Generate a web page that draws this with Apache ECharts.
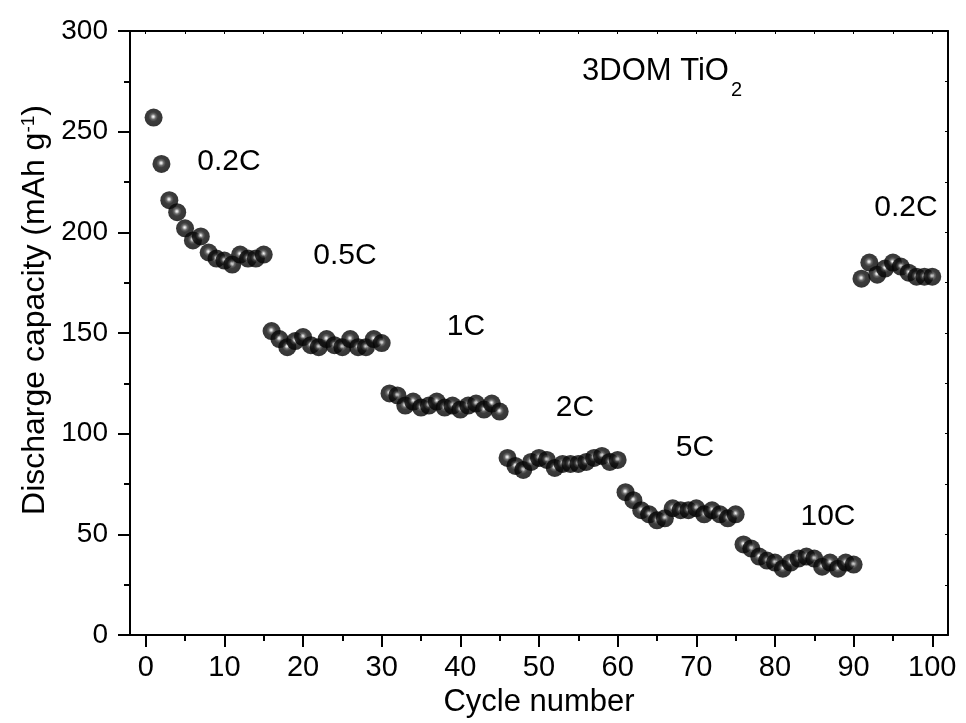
<!DOCTYPE html>
<html>
<head>
<meta charset="utf-8">
<script src="https://cdn.jsdelivr.net/npm/echarts@6/dist/echarts.min.js"></script>
<style>
  html, body { margin: 0; padding: 0; background: #fff; }
  #main { width: 966px; height: 723px; }
</style>
</head>
<body>
<div id="main"></div>
<script>
var chartDom = document.getElementById('main');
var myChart = echarts.init(chartDom);
var option;

// discharge capacity per rate step, 15 cycles each (last step 10 cycles)
const rate02a = [257, 234, 216, 210, 202, 196, 198, 190, 187, 186, 184, 189, 187, 187, 189];
const rate05 = [151, 147, 143, 146, 148, 144, 143, 147, 144, 143, 147, 143, 143, 147, 145];
const rate1 = [120, 119, 114, 116, 113, 114, 116, 113, 114, 112, 114, 115, 112, 115, 111];
const rate2 = [88, 84, 82, 86, 88, 87, 83, 85, 85, 85, 86, 88, 89, 86, 87];
const rate5 = [71, 67, 62, 60, 57, 58, 63, 62, 62, 63, 60, 62, 60, 58, 60];
const rate10 = [45, 43, 39, 37, 36, 33, 36, 38, 39, 38, 34, 36, 33, 36, 35];
const rate02b = [177, 185, 179, 182, 185, 183, 180, 178, 178, 178];

const segments = [rate02a, rate05, rate1, rate2, rate5, rate10, rate02b];
const segmentStart = [1, 16, 31, 46, 61, 76, 91];

const xTicks = [0, 10, 20, 30, 40, 50, 60, 70, 80, 90, 100];
const xMinorTicks = [5, 15, 25, 35, 45, 55, 65, 75, 85, 95];

// build [cycle, capacity] pairs
const points = [];
segments.forEach(function (seg, i) {
    seg.forEach(function (v, j) {
        points.push([segmentStart[i] + j, v]);
    });
});

const FONT = '"Liberation Sans", Arial, sans-serif';

// shaded ball marker: small bright spot, mostly black
const ball = {
    type: 'radial',
    x: 0.48,
    y: 0.45,
    r: 0.58,
    colorStops: [
        { offset: 0, color: '#ffffff' },
        { offset: 0.1, color: '#c8c8c8' },
        { offset: 0.26, color: '#444' },
        { offset: 0.45, color: '#0c0c0c' },
        { offset: 1, color: '#000' }
    ]
};

function note(text, x, y, size, align) {
    return {
        type: 'text',
        x: x,
        y: y,
        style: {
            text: text,
            font: size + 'px ' + FONT,
            fill: '#000',
            align: align || 'center',
            verticalAlign: 'middle'
        },
        z: 100
    };
}

option = {
    backgroundColor: '#fff',
    animation: false,
    grid: {
        left: 130,
        right: 18,
        top: 31,
        bottom: 87
    },
    xAxis: [
        {
            type: 'value',
            min: -2,
            max: 102,
            name: 'Cycle number',
            nameLocation: 'middle',
            nameGap: 50,
            nameTextStyle: { fontFamily: FONT, fontSize: 31, color: '#000' },
            splitLine: { show: false },
            axisLine: { onZero: false, lineStyle: { color: '#000', width: 2 } },
            axisTick: { inside: false, length: 12, customValues: xTicks, lineStyle: { color: '#000', width: 2 } },
            axisLabel: { customValues: xTicks, margin: 18, fontFamily: FONT, fontSize: 29, color: '#000' }
        },
        {
            // minor ticks on the bottom axis
            type: 'value',
            position: 'bottom',
            min: -2,
            max: 102,
            splitLine: { show: false },
            axisLine: { show: false, onZero: false },
            axisTick: { inside: false, length: 6, customValues: xMinorTicks, lineStyle: { color: '#000', width: 2 } },
            axisLabel: { show: false }
        },
        {
            type: 'value',
            position: 'top',
            min: -2,
            max: 102,
            splitLine: { show: false },
            axisLine: { onZero: false, lineStyle: { color: '#000', width: 2 } },
            axisTick: { inside: true, length: 3, customValues: xTicks.concat(xMinorTicks), lineStyle: { color: '#000', width: 1 } },
            axisLabel: { show: false }
        }
    ],
    yAxis: [
        {
            type: 'value',
            min: 0,
            max: 300,
            interval: 50,
            splitLine: { show: false },
            axisLine: { show: true, onZero: false, lineStyle: { color: '#000', width: 2 } },
            axisTick: { show: true, inside: false, length: 12, lineStyle: { color: '#000', width: 2 } },
            minorTick: { show: true, splitNumber: 2, length: 6, lineStyle: { color: '#000', width: 2 } },
            axisLabel: { margin: 22, fontFamily: FONT, fontSize: 28, color: '#000' }
        },
        {
            type: 'value',
            position: 'right',
            min: 0,
            max: 300,
            interval: 50,
            splitLine: { show: false },
            axisLine: { show: true, onZero: false, lineStyle: { color: '#000', width: 2 } },
            axisTick: { show: true, inside: true, length: 3, lineStyle: { color: '#000', width: 1 } },
            minorTick: { show: true, splitNumber: 2, length: 3, lineStyle: { color: '#000', width: 1 } },
            axisLabel: { show: false }
        }
    ],
    series: [
        {
            type: 'scatter',
            xAxisIndex: 0,
            yAxisIndex: 0,
            data: points,
            symbol: 'circle',
            symbolSize: 18,
            itemStyle: { color: ball },
            emphasis: { disabled: true }
        }
    ],
    graphic: {
        elements: [
            {
                type: 'text',
                x: 35,
                y: 310,
                rotation: Math.PI / 2,
                style: {
                    text: 'Discharge capacity (mAh g{sup|-1})',
                    font: '32px ' + FONT,
                    fill: '#000',
                    align: 'center',
                    verticalAlign: 'middle',
                    rich: {
                        sup: { fontSize: 19, fontFamily: FONT, verticalAlign: 'top', lineHeight: 19 }
                    }
                },
                z: 100
            },
            note('0.2C', 229, 162, 30),
            note('0.5C', 345, 256, 30),
            note('1C', 466, 327, 30),
            note('2C', 575, 408, 30),
            note('5C', 695, 448, 30),
            note('10C', 828, 517, 30),
            note('0.2C', 906, 208, 30),
            note('3DOM TiO', 582, 71, 31, 'left'),
            note('2', 731, 90, 20, 'left')
        ]
    }
};

myChart.setOption(option);
</script>
</body>
</html>
